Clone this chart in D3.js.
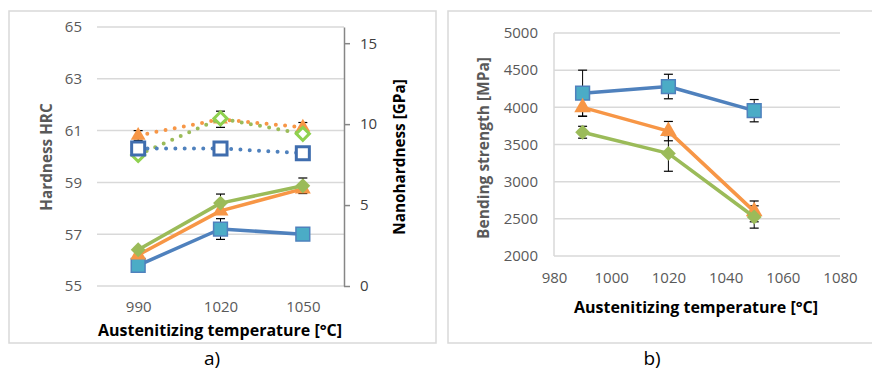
<!DOCTYPE html>
<html>
<head>
<meta charset="utf-8">
<script src="https://cdn.jsdelivr.net/npm/d3@7"></script>
<style>
  html, body { margin: 0; padding: 0; background: #fff; }
  svg { display: block; font-family: "Open Sans", sans-serif; }
</style>
</head>
<body>
<svg id="chart" width="872" height="371"></svg>
<script>
// panel a) – hardness
const tempsA = ['990', '1020', '1050'];
const hrcTicks = [55, 57, 59, 61, 63, 65];
const gpaTicks = [0, 5, 10, 15];
const hrcBlue = [55.8, 57.2, 57.0];
const hrcBlueErr = [0.2, 0.4, 0];
const hrcOrange = [56.2, 57.9, 58.75];
const hrcOrangeErr = [0, 0, 0];
const hrcGreen = [56.4, 58.2, 58.87];
const hrcGreenErr = [0, 0.35, 0.3];
const gpaBlue = [8.5, 8.5, 8.2];
const gpaOrange = [9.3, 10.3, 9.8];
const gpaOrangeErr = [0.3, 0.5, 0.3];
const gpaGreen = [8.1, 10.35, 9.4];

// panel b) – bending strength
const tempsB = [990, 1020, 1050];
const bsTicksX = [980, 1000, 1020, 1040, 1060, 1080];
const bsTicksY = [2000, 2500, 3000, 3500, 4000, 4500, 5000];
const bsBlue = [4190, 4280, 3955];
const bsBlueErr = [310, 165, 150];
const bsOrange = [4000, 3680, 2600];
const bsOrangeErr = [120, 130, 140];
const bsGreen = [3665, 3380, 2525];
const bsGreenErr = [80, 240, 150];

const C = {
  blueLine: '#4F81BD', blueFill: '#4BACC6', blueHollow: '#3F6DAE',
  orange: '#F79646', green: '#9BBB59', greenHollow: '#8FD14F',
  grid: '#D9D9D9', tick: '#595959', axis: '#868686'
};

const svg = d3.select('#chart');

// panel frames
svg.append('rect').attr('x', 9).attr('y', 11).attr('width', 427).attr('height', 332)
  .attr('fill', 'none').attr('stroke', C.grid).attr('stroke-width', 1.5);
svg.append('rect').attr('x', 448).attr('y', 11).attr('width', 440).attr('height', 332)
  .attr('fill', 'none').attr('stroke', C.grid).attr('stroke-width', 1.5);
svg.append('text').attr('x', 212).attr('y', 365).attr('text-anchor', 'middle')
  .attr('font-size', 19).attr('fill', '#000').text('a)');
svg.append('text').attr('x', 652).attr('y', 365).attr('text-anchor', 'middle')
  .attr('font-size', 19).attr('fill', '#000').text('b)');

const sym = (type, size) => d3.symbol().type(type).size(size)();

function errorBars(g, xs, ys, errs, y) {
  xs.forEach((xv, i) => {
    if (!errs[i]) return;
    const y0 = y(ys[i] - errs[i]), y1 = y(ys[i] + errs[i]);
    g.append('line').attr('x1', xv).attr('x2', xv).attr('y1', y0).attr('y2', y1)
      .attr('stroke', '#000').attr('stroke-width', 1);
    [y0, y1].forEach(yy => g.append('line').attr('x1', xv - 4.5).attr('x2', xv + 4.5)
      .attr('y1', yy).attr('y2', yy).attr('stroke', '#000').attr('stroke-width', 1.2));
  });
}

function series(g, xs, vals, y, o) {
  const pts = vals.map((v, i) => [xs[i], y(v)]);
  g.append('path').attr('d', d3.line()(pts)).attr('fill', 'none')
    .attr('stroke', o.line)
    .attr('stroke-linecap', 'round').attr('stroke-linejoin', 'round')
    .attr('stroke-dasharray', o.dotted ? '0 9.3' : null)
    .attr('stroke-width', o.dotted ? 4 : 3.5);
  pts.forEach(p => {
    g.append('path').attr('d', o.symbol)
      .attr('transform', `translate(${p[0]},${p[1]})${o.rotate ? ' rotate(45)' : ''}`)
      .attr('fill', o.fill).attr('stroke', o.stroke || 'none')
      .attr('stroke-width', o.sw || 0);
  });
}

// ---------- panel a ----------
{
  const g = svg.append('g');
  const x = d3.scalePoint().domain(tempsA).range([97, 344]).padding(0.5);
  const yL = d3.scaleLinear().domain([55, 65]).range([286, 27]);
  const yR = d3.scaleLinear().domain([0, 16]).range([286, 27]);

  g.selectAll('.grid').data(hrcTicks).join('line')
    .attr('x1', 97).attr('x2', 344).attr('y1', d => yL(d)).attr('y2', d => yL(d))
    .attr('stroke', C.grid).attr('stroke-width', 1.5);

  const axL = g.append('g').attr('transform', 'translate(97,0)')
    .call(d3.axisLeft(yL).tickValues(hrcTicks).tickSize(0).tickPadding(15));
  axL.select('.domain').remove();
  axL.selectAll('text').attr('font-size', 15).attr('fill', C.tick).attr('font-family', 'Open Sans');

  const axR = g.append('g').attr('transform', 'translate(344,0)')
    .call(d3.axisRight(yR).tickValues(gpaTicks).tickSize(6).tickPadding(10).tickSizeOuter(0));
  axR.select('.domain').attr('stroke', C.axis).attr('stroke-width', 1.5);
  axR.selectAll('line').attr('stroke', C.axis).attr('stroke-width', 1.5);
  axR.selectAll('text').attr('font-size', 15).attr('fill', '#404040').attr('font-family', 'Open Sans');

  const axX = g.append('g').attr('transform', 'translate(0,286)')
    .call(d3.axisBottom(x).tickSize(0).tickPadding(15));
  axX.select('.domain').remove();
  axX.selectAll('text').attr('font-size', 15).attr('fill', C.tick).attr('font-family', 'Open Sans');

  g.append('text').attr('x', 220).attr('y', 336).attr('text-anchor', 'middle')
    .attr('font-size', 16).attr('font-weight', 'bold').attr('fill', '#000')
    .text('Austenitizing temperature [°C]');
  g.append('text').attr('transform', 'translate(52,157) rotate(-90)').attr('text-anchor', 'middle')
    .attr('font-size', 15.3).attr('font-weight', 'bold').attr('fill', C.tick)
    .text('Hardness HRC');
  g.append('text').attr('transform', 'translate(405,157) rotate(-90)').attr('text-anchor', 'middle')
    .attr('font-size', 15.3).attr('font-weight', 'bold').attr('fill', '#000')
    .text('Nanohardness [GPa]');

  const xs = tempsA.map(t => x(t));

  // nanohardness (dotted, right axis)
  errorBars(g, xs, gpaOrange, gpaOrangeErr, yR);
  series(g, xs, gpaOrange, yR, { line: C.orange, dotted: true, symbol: sym(d3.symbolTriangle, 95), fill: C.orange });
  series(g, xs, gpaGreen, yR, { line: C.green, dotted: true, symbol: sym(d3.symbolSquare, 85), rotate: true,
    fill: '#fff', stroke: C.greenHollow, sw: 3 });
  series(g, xs, gpaBlue, yR, { line: C.blueLine, dotted: true, symbol: sym(d3.symbolSquare, 170),
    fill: '#fff', stroke: C.blueHollow, sw: 3 });

  // HRC (solid, left axis)
  errorBars(g, xs, hrcOrange, hrcOrangeErr, yL);
  errorBars(g, xs, hrcGreen, hrcGreenErr, yL);
  errorBars(g, xs, hrcBlue, hrcBlueErr, yL);
  series(g, xs, hrcBlue, yL, { line: C.blueLine, symbol: sym(d3.symbolSquare, 190),
    fill: C.blueFill, stroke: C.blueLine, sw: 1.5 });
  series(g, xs, hrcOrange, yL, { line: C.orange, symbol: sym(d3.symbolTriangle, 110), fill: C.orange });
  series(g, xs, hrcGreen, yL, { line: C.green, symbol: sym(d3.symbolSquare, 110), rotate: true, fill: C.green });
}

// ---------- panel b ----------
{
  const g = svg.append('g');
  const x = d3.scaleLinear().domain([980, 1080]).range([554, 840]);
  const y = d3.scaleLinear().domain([2000, 5000]).range([256, 33]);

  g.selectAll('.grid').data(bsTicksY).join('line')
    .attr('x1', 554).attr('x2', 840).attr('y1', d => y(d)).attr('y2', d => y(d))
    .attr('stroke', C.grid).attr('stroke-width', 1.5);
  g.append('line').attr('x1', 554).attr('x2', 554).attr('y1', 33).attr('y2', 256)
    .attr('stroke', C.grid).attr('stroke-width', 1.5);

  const axY = g.append('g').attr('transform', 'translate(554,0)')
    .call(d3.axisLeft(y).tickValues(bsTicksY).tickSize(0).tickPadding(16).tickFormat(d3.format('d')));
  axY.select('.domain').remove();
  axY.selectAll('text').attr('font-size', 15).attr('fill', C.tick).attr('font-family', 'Open Sans');

  const axX = g.append('g').attr('transform', 'translate(0,256)')
    .call(d3.axisBottom(x).tickValues(bsTicksX).tickSize(0).tickPadding(16).tickFormat(d3.format('d')));
  axX.select('.domain').remove();
  axX.selectAll('text').attr('font-size', 15).attr('fill', C.tick).attr('font-family', 'Open Sans');

  g.append('text').attr('x', 696).attr('y', 313).attr('text-anchor', 'middle')
    .attr('font-size', 16).attr('font-weight', 'bold').attr('fill', '#000')
    .text('Austenitizing temperature [°C]');
  g.append('text').attr('transform', 'translate(489,148) rotate(-90)').attr('text-anchor', 'middle')
    .attr('font-size', 15.5).attr('font-weight', 'bold').attr('fill', C.tick)
    .text('Bending strength  [MPa]');

  const xs = tempsB.map(t => x(t));
  errorBars(g, xs, bsBlue, bsBlueErr, y);
  errorBars(g, xs, bsOrange, bsOrangeErr, y);
  errorBars(g, xs, bsGreen, bsGreenErr, y);
  series(g, xs, bsBlue, y, { line: C.blueLine, symbol: sym(d3.symbolSquare, 190),
    fill: C.blueFill, stroke: C.blueLine, sw: 1.5 });
  series(g, xs, bsOrange, y, { line: C.orange, symbol: sym(d3.symbolTriangle, 120), fill: C.orange });
  series(g, xs, bsGreen, y, { line: C.green, symbol: sym(d3.symbolSquare, 110), rotate: true, fill: C.green });
}
</script>
</body>
</html>
